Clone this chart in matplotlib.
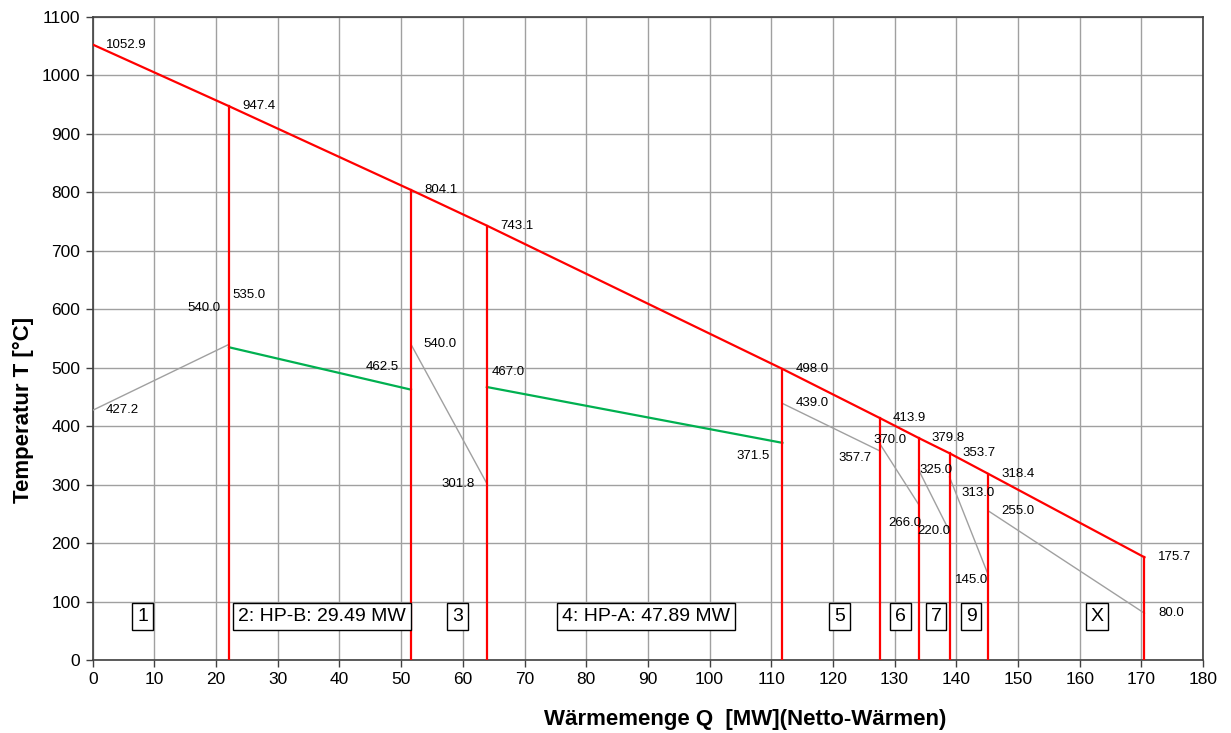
import numpy as np
import matplotlib.pyplot as plt

plt.rcParams['font.family'] = ['Liberation Sans', 'DejaVu Sans']

# Hot composite curve: heat load [MW] and temperature [C] at each section boundary.
q_hot = [0.0, 22.1, 51.6, 63.9, 111.8, 127.6, 133.9, 138.9, 145.2, 170.5]
t_hot = [1052.9, 947.4, 804.1, 743.1, 498.0, 413.9, 379.8, 353.7, 318.4, 175.7]

# Cold side per section: start/end load and temperature.
cold_q0 = [0.0, 22.1, 51.6, 63.9, 111.8, 127.6, 133.9, 138.9, 145.2]
cold_t0 = [427.2, 535.0, 540.0, 467.0, 439.0, 370.0, 325.0, 313.0, 255.0]
cold_q1 = [22.1, 51.6, 63.9, 111.8, 127.6, 133.9, 138.9, 145.2, 170.5]
cold_t1 = [540.0, 462.5, 301.8, 371.5, 357.7, 266.0, 220.0, 145.0, 80.0]
cold_kind = ['grey', 'green', 'grey', 'green', 'grey', 'grey', 'grey', 'grey', 'grey']

# Section labels along the bottom.
sec_names = ['1', '2: HP-B: 29.49 MW', '3', '4: HP-A: 47.89 MW', '5', '6', '7', '9', 'X']
sec_q = [8.07, 37.2, 59.1, 89.7, 121.1, 131.0, 136.7, 142.4, 162.8]
sec_t = 74.7

# Label offsets in pixels (dx, dy, horizontal alignment) for the cold-side values.
off0 = [(13, 0, 'left'), (3, 52, 'left'), (12, 0, 'left'), (5, 15, 'left'), (13, 0, 'left'),
        (-6, 4, 'left'), (1, 0, 'left'), (12, -16, 'left'), (13, 0, 'left')]
off1 = [(-8, 36, 'right'), (-12, 23, 'right'), (-12, 0, 'right'), (-13, -13, 'right'),
        (-8, -7, 'right'), (3, -18, 'right'), (1, 0, 'right'), (0, -5, 'right'), (14, 0, 'left')]

grid_col = '#a0a0a0'
frame_col = '#404040'
red = '#ff0000'
green = '#00b050'
cold_grey = '#a0a0a0'

fig = plt.figure(figsize=(12.31, 7.33), dpi=100)
ax = fig.add_axes([0.0753, 0.0996, 0.902, 0.8772])

# hot curve plus the vertical section boundaries
ax.plot(q_hot, t_hot, color=red, lw=1.6, zorder=4)
for q, t in zip(q_hot[1:], t_hot[1:]):
    ax.plot([q, q], [0, t], color=red, lw=1.6, zorder=4)

for i in range(len(q_hot)):
    ax.annotate('%.1f' % t_hot[i], (q_hot[i], t_hot[i]), xytext=(13, 0),
                textcoords='offset pixels', ha='left', va='center', fontsize=9.5, zorder=6)

# cold side segments
for i in range(len(cold_q0)):
    if cold_kind[i] == 'green':
        ax.plot([cold_q0[i], cold_q1[i]], [cold_t0[i], cold_t1[i]], color=green, lw=1.6, zorder=3)
    else:
        ax.plot([cold_q0[i], cold_q1[i]], [cold_t0[i], cold_t1[i]], color=cold_grey, lw=1.0, zorder=3)
    dx, dy, ha = off0[i]
    ax.annotate('%.1f' % cold_t0[i], (cold_q0[i], cold_t0[i]), xytext=(dx, dy),
                textcoords='offset pixels', ha=ha, va='center', fontsize=9.5, zorder=6)
    dx, dy, ha = off1[i]
    ax.annotate('%.1f' % cold_t1[i], (cold_q1[i], cold_t1[i]), xytext=(dx, dy),
                textcoords='offset pixels', ha=ha, va='center', fontsize=9.5, zorder=6)

for name, q in zip(sec_names, sec_q):
    ax.text(q, sec_t, name, ha='center', va='center', fontsize=14, zorder=7,
            bbox=dict(boxstyle='square,pad=0.25', fc='white', ec='black', lw=1.0))

ax.set_xlim(0, 180)
ax.set_ylim(0, 1100)
ax.set_xticks(np.arange(0, 181, 10))
ax.set_yticks(np.arange(0, 1101, 100))
ax.grid(True, color=grid_col, lw=1.0, zorder=0)
ax.set_axisbelow(True)
ax.tick_params(direction='out', length=5, width=1.0, color=frame_col, labelsize=12.5, pad=4)
for sp in ax.spines.values():
    sp.set_color(frame_col)
    sp.set_linewidth(1.2)

fig.text(745 / 1231, 1 - 719 / 733, 'Wärmemenge Q  [MW](Netto-Wärmen)', ha='center', va='center',
         fontsize=16, fontweight='bold')
fig.text(23 / 1231, 1 - 410 / 733, 'Temperatur T [°C]', ha='center', va='center',
         rotation=90, fontsize=16, fontweight='bold')

fig.savefig('out.png', dpi=100)
